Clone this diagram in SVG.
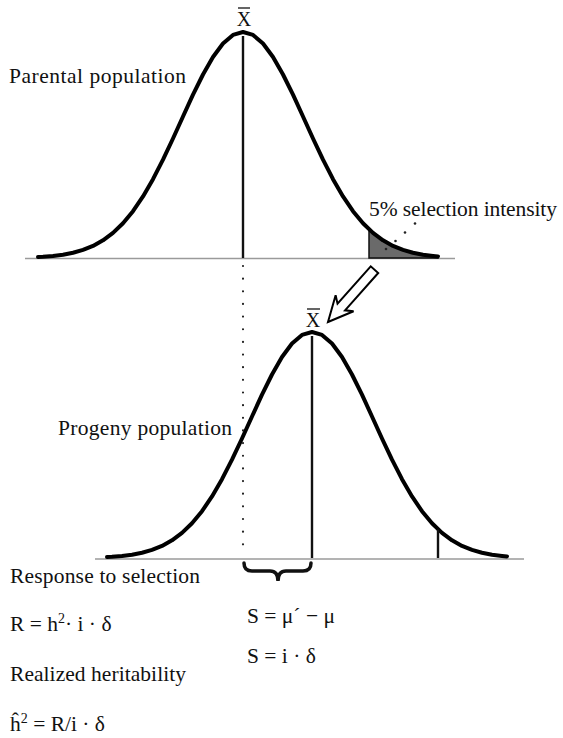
<svg xmlns="http://www.w3.org/2000/svg" xmlns:xlink="http://www.w3.org/1999/xlink" width="563" height="738" viewBox="0 0 563 738">
<style>
  text { font-family: "Liberation Serif", "Times New Roman", serif; font-size: 21.5px; fill: #111; }
  .xbar { font-size: 20px; }
  .curve { fill: none; stroke: #000; stroke-width: 4; stroke-linejoin: round; stroke-linecap: round; }
  .axis { stroke: #9a9a9a; stroke-width: 1.6; }
  .mean { stroke: #111; stroke-width: 2.4; }
  .bar { stroke: #111; stroke-width: 1.3; }
</style>
<defs>
  <path id="bell" d="M-205,-1 L-200,-1.2 L-190,-2.1 L-180,-3.3 L-170,-5.3 L-160,-8.1 L-150,-12.1 L-140,-17.7 L-130,-25.1 L-120,-34.7 L-110,-46.8 L-100,-61.6 L-90,-78.8 L-80,-98.3 L-70,-119.5 L-60,-141.5 L-50,-163.3 L-40,-183.5 L-30,-201 L-20,-214.5 L-10,-223.1 L0,-226 L10,-223.1 L20,-214.5 L30,-201 L40,-183.5 L50,-163.3 L60,-141.5 L70,-119.5 L80,-98.3 L90,-78.8 L100,-61.6 L110,-46.8 L120,-34.7 L130,-25.1 L140,-17.7 L150,-12.1 L160,-8.1 L170,-5.3 L180,-3.3 L190,-2.1 L195,-1.6"/>
</defs>

<g id="parental">
  <line class="axis" x1="25" y1="258.5" x2="455" y2="258.5"/>
  <path transform="translate(243,258)" d="M126,0 L126,-28.7 L130,-25.1 L140,-17.7 L150,-12.1 L160,-8.1 L170,-5.3 L180,-3.3 L190,-2.1 L195,-1.6 L195,0 Z" fill="#6a6a6a" stroke="#111" stroke-width="1.5"/>
  <use xlink:href="#bell" class="curve" transform="translate(243,258)"/>
  <line class="mean" x1="243" y1="36" x2="243" y2="258"/>
  <text class="xbar" x="244" y="26" text-anchor="middle">X</text>
  <line class="bar" x1="238" y1="8" x2="250" y2="8"/>
  <text x="9" y="83" textLength="177">Parental population</text>
</g>

<g id="selection-label">
  <text x="369" y="216" textLength="188">5% selection intensity</text>
  <g fill="#222">
    <circle cx="386" cy="249" r="1.3"/>
    <circle cx="395.5" cy="241" r="1.3"/>
    <circle cx="405" cy="232.5" r="1.3"/>
    <circle cx="415" cy="223.5" r="1.3"/>
  </g>
</g>

<g id="arrow" transform="translate(328,322) rotate(131.6)">
  <path d="M0,0 L-25,-12 L-20,-5 L-70,-5 L-70,5 L-20,5 L-25,12 Z" fill="#fff" stroke="#000" stroke-width="2" stroke-linejoin="miter"/>
</g>

<g id="progeny">
  <line class="axis" x1="95" y1="559" x2="524" y2="559"/>
  <use xlink:href="#bell" class="curve" transform="translate(312,558)"/>
  <line class="mean" x1="312" y1="336" x2="312" y2="558"/>
  <line class="mean" x1="438" y1="529.5" x2="438" y2="558"/>
  <text class="xbar" x="313" y="327" text-anchor="middle">X</text>
  <line class="bar" x1="307" y1="309" x2="320" y2="309"/>
  <text x="58" y="435" textLength="174">Progeny population</text>
</g>

<g id="connectors">
  <line x1="243" y1="266" x2="243" y2="550" stroke="#222" stroke-width="2.2" stroke-dasharray="0 12.65" stroke-linecap="round"/>
  <path d="M244,563 Q244,571 252,571 L270,571 Q278,571 278,581 Q278,571 286,571 L303,571 Q311,571 311,563" fill="none" stroke="#111" stroke-width="3.5" stroke-linecap="round"/>
</g>

<g id="equations">
  <text x="10" y="583" textLength="190">Response to selection</text>
  <text x="10" y="631">R = h<tspan font-size="14" dy="-8">2</tspan><tspan dy="8">· i · δ</tspan></text>
  <text x="247" y="623">S = μ´ − μ</text>
  <text x="247" y="663">S = i · δ</text>
  <text x="10" y="681" textLength="176">Realized heritability</text>
  <text x="10" y="731">ĥ<tspan font-size="14" dy="-8">2</tspan><tspan dy="8"> = R/i · δ</tspan></text>
</g>
</svg>
